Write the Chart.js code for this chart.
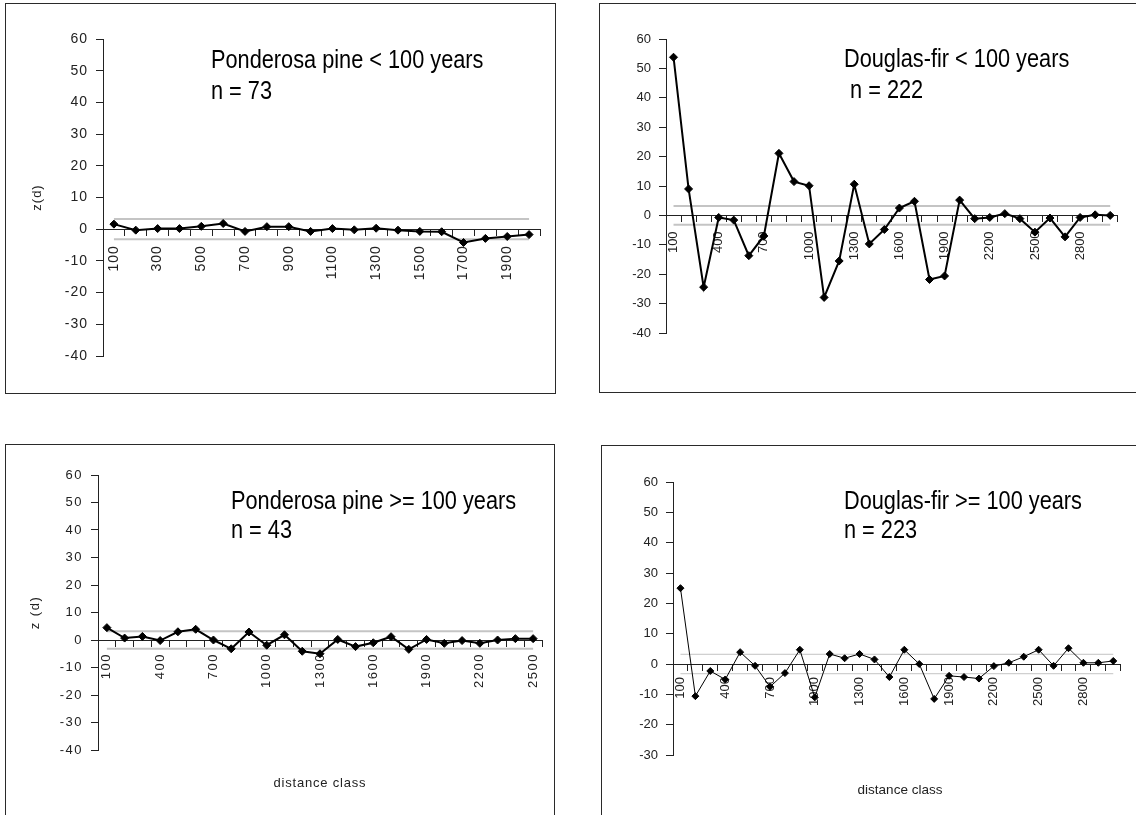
<!DOCTYPE html>
<html>
<head>
<meta charset="utf-8">
<script src="https://cdn.jsdelivr.net/npm/chart.js@4.4.1/dist/chart.umd.min.js"></script>
<style>
  body { margin: 0; background: #fff; width: 1136px; height: 815px; overflow: hidden; position: relative;
         font-family: "Liberation Sans", Arial, sans-serif; }
  .box { position: absolute; border: 1.5px solid #2a2a2a; box-sizing: border-box; }
  canvas { position: absolute; }
  .note { position: absolute; font-size: 26.5px; line-height: 31px; white-space: pre; color: #000;
          transform: scaleX(0.82); transform-origin: 0 0; }
  .xt { position: absolute; transform: translate(-50%, -50%); white-space: nowrap; color: #222; }
</style>
</head>
<body>
<div class="box" style="left:5px;top:3px;width:551px;height:391px"></div>
<div class="box" style="left:599px;top:3px;width:560px;height:390px"></div>
<div class="box" style="left:5px;top:444px;width:550px;height:400px"></div>
<div class="box" style="left:601px;top:445px;width:560px;height:400px"></div>

<canvas id="c1" width="560" height="400" style="left:0;top:0"></canvas>
<canvas id="c2" width="551" height="400" style="left:585px;top:0"></canvas>
<canvas id="c3" width="560" height="405" style="left:0;top:410px"></canvas>
<canvas id="c4" width="551" height="405" style="left:585px;top:410px"></canvas>

<div class="note" style="left:211px;top:44px">Ponderosa pine &lt; 100 years
n = 73</div>
<div class="note" style="left:844px;top:43px">Douglas-fir &lt; 100 years
 n = 222</div>
<div class="note" style="left:231px;top:486px;line-height:29px">Ponderosa pine &gt;= 100 years
n = 43</div>
<div class="note" style="left:844px;top:486px;line-height:29px">Douglas-fir &gt;= 100 years
n = 223</div>

<div class="xt" style="left:320px;top:782px;font-size:13px;letter-spacing:0.8px">distance class</div>
<div class="xt" style="left:900px;top:789px;font-size:13.5px">distance class</div>

<script>
// distance classes (m)
const pineYoungDist = [100, 200, 300, 400, 500, 600, 700, 800, 900, 1000,
  1100, 1200, 1300, 1400, 1500, 1600, 1700, 1800, 1900, 2000];
const firYoungDist = [100, 200, 300, 400, 500, 600, 700, 800, 900, 1000,
  1100, 1200, 1300, 1400, 1500, 1600, 1700, 1800, 1900, 2000,
  2100, 2200, 2300, 2400, 2500, 2600, 2700, 2800, 2900, 3000];
const pineOldDist = [100, 200, 300, 400, 500, 600, 700, 800, 900, 1000,
  1100, 1200, 1300, 1400, 1500, 1600, 1700, 1800, 1900, 2000,
  2100, 2200, 2300, 2400, 2500];
const firOldDist = firYoungDist;

// z(d) values
const pineYoungZ = [1.6, -0.3, 0.2, 0.2, 0.9, 1.8, -0.7, 0.8, 0.8, -0.7,
  0.2, -0.2, 0.3, -0.3, -0.7, -0.8, -4.2, -2.9, -2.3, -1.7];
const firYoungZ = [53.8, 9.0, -24.4, -0.7, -1.6, -13.7, -7.0, 21.1, 11.5, 10.1,
  -27.9, -15.5, 10.6, -9.7, -4.8, 2.5, 4.8, -21.8, -20.6, 5.2,
  -1.1, -0.7, 0.6, -1.1, -5.7, -0.9, -7.3, -0.7, 0.2, 0.0];
const pineOldZ = [4.5, 0.7, 1.3, -0.2, 3.0, 3.9, 0.0, -3.2, 2.9, -1.9,
  1.9, -4.1, -5.0, 0.2, -2.4, -1.0, 1.2, -3.4, 0.2, -1.2,
  -0.2, -1.2, 0.0, 0.5, 0.5];
const firOldZ = [25.0, -10.6, -2.3, -5.1, 3.9, -0.6, -7.5, -3.0, 4.7, -11.0,
  3.3, 1.9, 3.3, 1.5, -4.3, 4.7, 0.0, -11.5, -3.9, -4.3,
  -4.8, -0.7, 0.4, 2.4, 4.7, -0.6, 5.2, 0.4, 0.4, 1.0];

// labelled classes on each x axis
const pineYoungTicks = [100, 300, 500, 700, 900, 1100, 1300, 1500, 1700, 1900];
const firTicks = [100, 400, 700, 1000, 1300, 1600, 1900, 2200, 2500, 2800];
const pineOldTicks = [100, 400, 700, 1000, 1300, 1600, 1900, 2200, 2500];

const zBand = 3.2; // significance limits drawn as grey lines

const sans = '"Liberation Sans", Arial, sans-serif';

const bandPlugin = {
  id: 'band',
  beforeDatasetsDraw(chart, args, opts) {
    const {ctx, scales: {x, y}} = chart;
    const n = chart.data.labels.length;
    const x0 = x.getPixelForValue(0), x1 = x.getPixelForValue(n - 1);
    ctx.save();
    ctx.strokeStyle = opts.color;
    ctx.lineWidth = opts.width;
    [opts.value, -opts.value].forEach(v => {
      const py = y.getPixelForValue(v);
      ctx.beginPath();
      ctx.moveTo(x0, py);
      ctx.lineTo(x1, py);
      ctx.stroke();
    });
    ctx.restore();
  }
};

// Excel-style spaced-out digits on two of the panels
const spacingPlugin = {
  id: 'spacing',
  beforeUpdate(chart, args, opts) { chart.ctx.letterSpacing = opts.px || '0px'; },
  beforeDraw(chart, args, opts) { chart.ctx.letterSpacing = opts.px || '0px'; }
};

function makeChart(id, cats, vals, ticks, s) {
  return new Chart(document.getElementById(id), {
    type: 'line',
    data: {
      labels: cats,
      datasets: [{
        data: vals,
        borderColor: '#000',
        backgroundColor: '#000',
        borderWidth: s.lw,
        pointStyle: 'rectRot',
        pointRadius: s.pr,
        pointBorderWidth: 1,
        tension: 0
      }]
    },
    options: {
      responsive: false,
      animation: false,
      events: [],
      layout: { padding: s.pad },
      plugins: {
        legend: { display: false },
        tooltip: { enabled: false },
        band: { value: zBand, color: '#c4c4c4', width: s.bw },
        spacing: { px: s.ls }
      },
      scales: {
        x: {
          type: 'category',
          offset: true,
          position: { y: 0 },
          grid: { drawOnChartArea: false, drawTicks: true, tickLength: 6, offset: true, color: '#222', lineWidth: 1 },
          border: { color: '#222', width: 1 },
          ticks: {
            autoSkip: false, minRotation: 90, maxRotation: 90,
            padding: s.xpad, color: '#222', font: { family: sans, size: s.fs },
            callback: (v, i) => ticks.includes(cats[i]) ? String(cats[i]) : ''
          },
          afterFit: sc => { sc.height = 0; }
        },
        y: {
          min: s.ymin, max: 60,
          ticks: { stepSize: 10, padding: s.ypad, color: '#222', font: { family: sans, size: s.fs } },
          grid: { drawOnChartArea: false, drawTicks: true, tickLength: 7, color: '#222' },
          border: { color: '#222', width: 1 },
          title: {
            display: !!s.ytitle, text: s.ytitle || '', color: '#222',
            font: { family: sans, size: 13 }, padding: { top: s.tpad, bottom: 0 }
          },
          afterFit: sc => { sc.width = s.yw; }
        }
      }
    },
    plugins: [bandPlugin, spacingPlugin]
  });
}

makeChart('c1', pineYoungDist, pineYoungZ, pineYoungTicks, {
  lw: 2, pr: 4, bw: 2, ls: '1px', fs: 14, xpad: 10, ypad: 8,
  ymin: -40, yw: 103, pad: { top: 39, bottom: 44, left: 0, right: 20 },
  ytitle: 'z(d)', tpad: 30
});
makeChart('c2', firYoungDist, firYoungZ, firTicks, {
  lw: 2, pr: 4, bw: 2, ls: '0px', fs: 13, xpad: 10, ypad: 8,
  ymin: -40, yw: 81, pad: { top: 39, bottom: 67, left: 0, right: 11 }
});
makeChart('c3', pineOldDist, pineOldZ, pineOldTicks, {
  lw: 2, pr: 4, bw: 2, ls: '1.5px', fs: 13, xpad: 7, ypad: 8,
  ymin: -40, yw: 98, pad: { top: 65, bottom: 65, left: 0, right: 18 },
  ytitle: 'z (d)', tpad: 28
});
makeChart('c4', firOldDist, firOldZ, firTicks, {
  lw: 1, pr: 3.5, bw: 1, ls: '0px', fs: 13, xpad: 7, ypad: 8,
  ymin: -30, yw: 88, pad: { top: 72, bottom: 60, left: 0, right: 8 }
});
</script>
</body>
</html>
